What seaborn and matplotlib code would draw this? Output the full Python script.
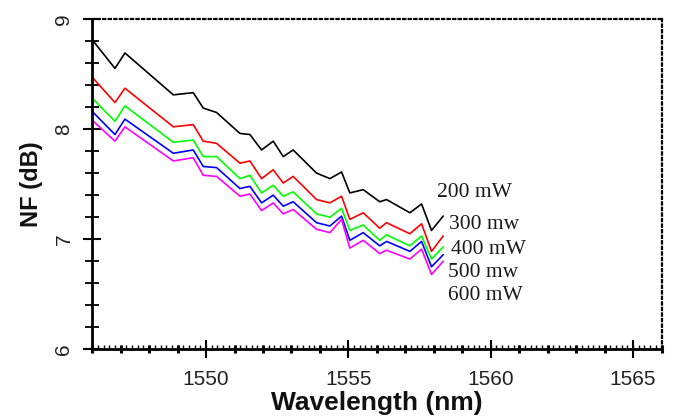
import numpy as np
import pandas as pd
import matplotlib
matplotlib.use("Agg")
import matplotlib.pyplot as plt
import seaborn as sns
from matplotlib.ticker import MultipleLocator

# ---- data ----
wavelength = [1546.0, 1546.8, 1547.15, 1548.85, 1549.55, 1549.9, 1550.37, 1551.19,
              1551.54, 1551.95, 1552.36, 1552.71, 1553.06, 1553.88, 1554.35, 1554.76,
              1555.05, 1555.52, 1556.1, 1556.34, 1557.16, 1557.57, 1557.92, 1558.33]
nf_200 = [8.81, 8.55, 8.69, 8.31, 8.33, 8.19, 8.15, 7.96, 7.95, 7.81, 7.89, 7.75,
          7.81, 7.60, 7.55, 7.61, 7.42, 7.45, 7.34, 7.36, 7.24, 7.32, 7.08, 7.21]
nf_300 = [8.47, 8.24, 8.37, 8.02, 8.04, 7.89, 7.87, 7.69, 7.71, 7.55, 7.63, 7.51,
          7.57, 7.36, 7.33, 7.39, 7.18, 7.24, 7.10, 7.15, 7.05, 7.14, 6.89, 7.03]
nf_400 = [8.28, 8.07, 8.21, 7.88, 7.90, 7.75, 7.75, 7.55, 7.58, 7.42, 7.49, 7.39,
          7.43, 7.23, 7.20, 7.28, 7.08, 7.13, 6.99, 7.04, 6.94, 7.03, 6.82, 6.93]
nf_500 = [8.16, 7.95, 8.09, 7.78, 7.81, 7.66, 7.65, 7.46, 7.48, 7.33, 7.40, 7.30,
          7.34, 7.15, 7.12, 7.21, 6.99, 7.06, 6.94, 6.98, 6.89, 6.98, 6.75, 6.86]
nf_600 = [8.08, 7.89, 8.02, 7.71, 7.74, 7.58, 7.57, 7.39, 7.41, 7.26, 7.33, 7.23,
          7.27, 7.09, 7.06, 7.18, 6.92, 6.99, 6.87, 6.90, 6.82, 6.91, 6.68, 6.80]
series_labels = ["200 mW", "300 mw", "400 mW", "500 mw", "600 mW"]
series_colors = ["#000000", "#ff0000", "#00ff00", "#0000ff", "#ff00ff"]
x_ticks = [1550, 1555, 1560, 1565]
y_ticks = [6, 7, 8, 9]

series = [nf_200, nf_300, nf_400, nf_500, nf_600]
df = pd.concat([pd.DataFrame({"wl": wavelength, "nf": s, "power": lab})
                for s, lab in zip(series, series_labels)], ignore_index=True)

sns.set_style("ticks")
fig = plt.figure(figsize=(6.73, 4.18), dpi=100)
ax = fig.add_axes([0.137, 0.164, 0.846, 0.791])

sns.lineplot(data=df, x="wl", y="nf", hue="power", palette=series_colors,
             legend=False, sort=False, linewidth=1.2, ax=ax, estimator=None)

ax.set_xlim(1546, 1566)
ax.set_ylim(6, 9)
ax.set_xticks(x_ticks)
ax.set_yticks(y_ticks)
ax.xaxis.set_minor_locator(MultipleLocator(1))
ax.yaxis.set_minor_locator(MultipleLocator(0.2))

tick_font = dict(family="Liberation Sans", size=15)
ax.set_xticklabels([str(t) for t in x_ticks], fontdict=tick_font)
ax.set_yticklabels([str(t) for t in y_ticks], fontdict=tick_font, rotation=90, va="center")

ax.tick_params(axis="both", which="both", bottom=True, left=True, top=False, right=False)
ax.tick_params(axis="both", which="major", direction="inout", length=13, width=1.5,
               color="black", labelcolor="#222222")
ax.tick_params(axis="x", which="major", pad=8)
ax.tick_params(axis="y", which="major", pad=7)
ax.tick_params(axis="x", which="minor", direction="inout", length=6, width=2.2, color="black")
ax.tick_params(axis="y", which="minor", direction="inout", length=10, width=1.3, color="black")

# fine 0.2-nm ticks on the wavelength axis
sec = ax.secondary_xaxis("bottom")
sec.set_xticks(list(np.arange(1546, 1566.01, 0.2)))
sec.set_xticklabels([])
sec.tick_params(which="major", bottom=True, direction="in", length=3, width=1, color="black")
sec.spines["bottom"].set_visible(False)

for side in ["left", "bottom"]:
    ax.spines[side].set_color("black")
    ax.spines[side].set_linewidth(2)
for side in ["top", "right"]:
    ax.spines[side].set_visible(True)
    ax.spines[side].set_color("black")
    ax.spines[side].set_linewidth(1.6)
    ax.spines[side].set_linestyle((0, (1, 1.5)))

ax.set_xlabel("Wavelength (nm)", family="Liberation Sans", fontsize=19,
              fontweight="bold", color="#111111", labelpad=2)
ax.set_ylabel("NF (dB)", family="Liberation Sans", fontsize=17,
              fontweight="bold", color="#111111", labelpad=8)

# series labels
label_pos = [(1558.1, 7.42), (1558.53, 7.13), (1558.62, 6.91), (1558.49, 6.70), (1558.49, 6.49)]
for lab, (lx, ly) in zip(series_labels, label_pos):
    ax.text(lx, ly, lab, family="Liberation Serif", fontsize=15.5, color="#1a1a1a",
            ha="left", va="center")

fig.savefig("out.png", dpi=100)
